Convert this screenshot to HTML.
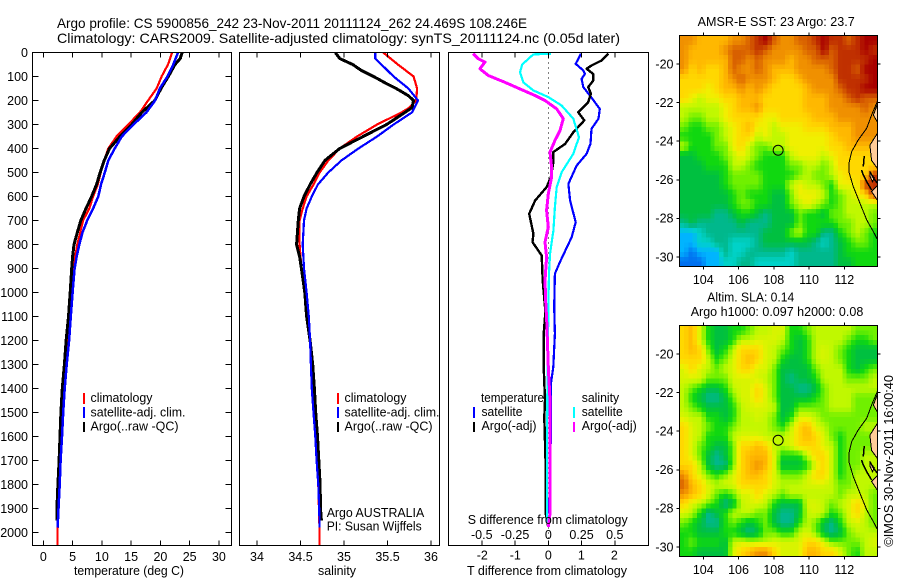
<!DOCTYPE html>
<html>
<head>
<meta charset="utf-8">
<title>Argo profile</title>
<style>
html,body{margin:0;padding:0;background:#fff;width:900px;height:580px;overflow:hidden}
svg{display:block}
text{font-family:"Liberation Sans",sans-serif;font-size:12.5px;fill:#000}
</style>
</head>
<body>
<svg id="chart" xmlns="http://www.w3.org/2000/svg" width="900" height="580" viewBox="0 0 900 580">
<defs>
<clipPath id="clip-sst"><rect x="679.5" y="35.5" width="198" height="231"/></clipPath>
<clipPath id="clip-sla"><rect x="679.5" y="325.5" width="198" height="231"/></clipPath>
</defs>
<text x="57" y="28" style="font-size:14px" textLength="470" lengthAdjust="spacingAndGlyphs">Argo profile: CS 5900856_242 23-Nov-2011 20111124_262 24.469S 108.246E</text>
<text x="57" y="43" style="font-size:14px" textLength="563" lengthAdjust="spacingAndGlyphs">Climatology: CARS2009. Satellite-adjusted climatology: synTS_20111124.nc (0.05d later)</text>
<g id="p1"></g>
<g id="p2"></g>
<g id="p3"></g>
<g id="m1"></g>
<g id="m2"></g>

<text x="74" y="575" textLength="110" lengthAdjust="spacingAndGlyphs">temperature (deg C)</text>
<text x="318" y="575" textLength="38" lengthAdjust="spacingAndGlyphs">salinity</text>
<text x="467" y="575" textLength="160" lengthAdjust="spacingAndGlyphs">T difference from climatology</text>
<text x="467.7" y="524" textLength="160" lengthAdjust="spacingAndGlyphs">S difference from climatology</text>

<g>
<rect x="83" y="393" width="2" height="11" fill="#ff0000"/>
<rect x="83" y="407" width="2" height="11" fill="#0000ff"/>
<rect x="83" y="422" width="2" height="10" fill="#000"/>
<text x="90.5" y="402" textLength="62" lengthAdjust="spacingAndGlyphs">climatology</text>
<text x="90.5" y="416.5" textLength="95" lengthAdjust="spacingAndGlyphs">satellite-adj. clim.</text>
<text x="90.5" y="430.5" textLength="88" lengthAdjust="spacingAndGlyphs">Argo(..raw -QC)</text>
</g>
<g>
<rect x="337" y="393" width="2" height="11" fill="#ff0000"/>
<rect x="337" y="407" width="2" height="11" fill="#0000ff"/>
<rect x="337" y="422" width="2" height="10" fill="#000"/>
<text x="344.5" y="402" textLength="62" lengthAdjust="spacingAndGlyphs">climatology</text>
<text x="344.5" y="416.5" textLength="95" lengthAdjust="spacingAndGlyphs">satellite-adj. clim.</text>
<text x="344.5" y="430.5" textLength="88" lengthAdjust="spacingAndGlyphs">Argo(..raw -QC)</text>
<text x="326.7" y="517" textLength="97.5" lengthAdjust="spacingAndGlyphs">Argo AUSTRALIA</text>
<text x="326.7" y="530.7" textLength="95" lengthAdjust="spacingAndGlyphs">PI: Susan Wijffels</text>
</g>
<g>
<rect x="473" y="407" width="2" height="11" fill="#0000ff"/>
<rect x="473" y="422" width="2" height="10" fill="#000"/>
<rect x="573" y="407" width="2" height="11" fill="#00ffff"/>
<rect x="573" y="422" width="2" height="10" fill="#ff00ff"/>
<text x="481" y="402" textLength="63" lengthAdjust="spacingAndGlyphs">temperature</text>
<text x="481.5" y="416" textLength="41" lengthAdjust="spacingAndGlyphs">satellite</text>
<text x="481.5" y="430" textLength="55" lengthAdjust="spacingAndGlyphs">Argo(-adj)</text>
<text x="581.7" y="402" textLength="37.5" lengthAdjust="spacingAndGlyphs">salinity</text>
<text x="581.7" y="416" textLength="41" lengthAdjust="spacingAndGlyphs">satellite</text>
<text x="581.7" y="430" textLength="55" lengthAdjust="spacingAndGlyphs">Argo(-adj)</text>
</g>

<text x="697.7" y="26" textLength="157" lengthAdjust="spacingAndGlyphs">AMSR-E SST: 23 Argo: 23.7</text>
<text x="707.3" y="301.7" textLength="87" lengthAdjust="spacingAndGlyphs">Altim. SLA: 0.14</text>
<text x="690.7" y="316" textLength="172.6" lengthAdjust="spacingAndGlyphs">Argo h1000: 0.097 h2000: 0.08</text>
<text transform="translate(893 546.7) rotate(-90)" textLength="171.7" lengthAdjust="spacingAndGlyphs">©IMOS 30-Nov-2011 16:00:40</text>
</svg>

<script>
// ---------- profile data ----------
var depthTicks = [0,100,200,300,400,500,600,700,800,900,1000,1100,1200,1300,1400,1500,1600,1700,1800,1900,2000];
var tempTicks = [0,5,10,15,20,25,30];
var salTicks = [34,34.5,35,35.5,36];
var salTickLabels = ['34','34.5','35','35.5','36'];
var tDiffTicks = [-2,-1,0,1,2];
var sDiffTicks = [-0.5,-0.25,0,0.25,0.5];
var sDiffLabels = ['-0.5','-0.25','0','0.25','0.5'];
var lonTicks = [104,106,108,110,112];
var latTicks = [-20,-22,-24,-26,-28,-30];

var climTempDepths = [0,50,100,150,200,250,300,350,400,450,500,550,600,650,700,750,800,850,900,1000,1100,1200,1300,1400,1500,1600,1700,1800,1900,2000,2057];
var climTemp = [22.0,21.3,20.2,19.35,17.9,16.5,14.5,12.5,11.1,10.4,9.8,9.3,8.5,7.85,6.8,6.3,5.8,5.45,5.2,4.9,4.55,4.2,3.8,3.47,3.2,3.0,2.85,2.7,2.5,2.4,2.4];
var satTempDepths = [0,50,100,150,200,250,300,350,400,450,500,550,600,650,700,750,800,850,900,1000,1100,1200,1300,1400,1500,1600,1700,1800,1900,1980];
var satTemp = [23,22.2,21.2,19.9,19.1,17.6,15.4,13.4,12.2,11.1,10.5,9.85,9.4,8.5,7.5,6.7,6.15,5.7,5.35,5.0,4.7,4.4,4.0,3.65,3.4,3.2,2.95,2.8,2.6,2.45];
var argoTempDepths = [0,25,50,100,150,200,250,300,350,400,450,500,550,600,650,700,750,800,850,900,1000,1100,1200,1300,1400,1500,1600,1700,1800,1900,1950];
var argoTemp = [23.7,23.4,22.5,21.35,20.1,19.05,16.8,15.1,13.1,11.3,10.4,9.7,9.1,8.25,7.3,6.4,5.8,5.25,5.0,4.85,4.6,4.3,3.9,3.6,3.25,3.0,2.85,2.7,2.5,2.33,2.3];

var climSalDepths = [0,50,100,150,200,230,250,300,350,400,450,500,550,600,650,700,800,900,1000,1200,1400,1600,1800,2000,2057];
var climSal = [35.45,35.62,35.8,35.84,35.83,35.75,35.66,35.38,35.15,34.95,34.82,34.72,34.65,34.57,34.525,34.49,34.49,34.51,34.55,34.61,34.63,34.67,34.705,34.72,34.72];
var satSalDepths = [0,25,50,100,150,200,250,300,350,400,450,500,550,600,650,700,800,900,1000,1100,1200,1300,1400,1500,1600,1700,1800,1900,1980];
var satSal = [35.36,35.36,35.43,35.57,35.74,35.85,35.78,35.57,35.38,35.165,34.97,34.82,34.7,34.63,34.57,34.54,34.525,34.54,34.57,34.595,34.61,34.62,34.63,34.65,34.67,34.685,34.705,34.715,34.72];
var argoSalDepths = [0,25,50,75,100,130,150,180,200,230,250,300,350,400,450,500,550,600,650,700,800,850,900,1000,1100,1200,1300,1400,1500,1600,1700,1800,1900,1950];
var argoSal = [34.9,34.95,35.1,35.2,35.34,35.49,35.6,35.74,35.8,35.78,35.7,35.49,35.22,34.95,34.78,34.69,34.61,34.54,34.49,34.475,34.455,34.49,34.51,34.55,34.57,34.61,34.64,34.66,34.675,34.695,34.71,34.725,34.73,34.74];

var tSatDiffDepths = [5,47,75,89,110,144,179,235,276,318,380,422,471,547,617,707,769,874,922,1061,1172,1310,1380,1590,1921];
var tSatDiff = [0.99,0.83,1.06,1.11,1.01,1.06,1.26,1.56,1.52,1.31,1.28,1.16,0.86,0.61,0.66,0.83,0.71,0.35,0.20,0.18,0.20,0.15,0.08,0.08,0.02];
var tArgoDiffDepths = [5,33,54,68,89,117,144,172,207,249,283,332,381,415,457,519,561,617,672,756,790,846,950,1061,1103,1172,1310,1449,1519,1727,1921,1977];
var tArgoDiff = [1.82,1.62,1.31,1.16,1.36,1.36,1.21,1.29,1.21,0.91,1.09,0.76,0.51,0.15,0.15,0.08,-0.05,-0.40,-0.58,-0.45,-0.48,-0.20,-0.17,-0.10,-0.10,-0.14,-0.14,-0.10,-0.12,-0.08,-0.08,0];
var sSatDiffDepths = [5,8,50,82,124,158,186,221,276,353,422,499,561,644,742,839,922,1061,1103,1310,1590,1921,1977];
var sSatDiff = [0.02,-0.113,-0.196,-0.213,-0.188,-0.113,0,0.10,0.188,0.231,0.188,0.10,0.063,0.05,0.038,0.013,0.005,0,0,-0.005,-0.01,-0.01,0];
var sArgoDiffDepths = [5,26,40,68,96,124,158,179,200,235,276,325,367,415,478,519,589,658,728,790,853,950,1061,1103,1310,1449,1590,1727,1921,1977];
var sArgoDiff = [-0.564,-0.526,-0.476,-0.514,-0.451,-0.326,-0.188,-0.10,-0.025,0.063,0.113,0.088,0.05,0.013,0.025,0.025,0,-0.013,0,-0.025,-0.013,-0.025,-0.018,-0.013,0,0.013,0.013,0.013,0.013,0];

// ---------- map data: colour level sampled every half degree, north to south ----------
var sstLevels = [
[11,11,10,10,10,10,11,11,12,13,14,12,11,11,12,12,13,14,13,13,12,13,14,14],
[11,10,10,10,10,11,12,12,12,13,12,11,11,11,11,12,12,14,12,13,13,13,14,13],
[11,10,10,10,10,10,12,12,11,12,11,11,11,10,11,11,12,12,12,13,13,13,13,14],
[11,9,10,9,9,10,12,11,11,12,11,10,10,10,11,11,11,11,12,13,13,12,14,14],
[9,9,9,9,9,10,11,12,11,11,11,10,9,9,10,11,11,11,11,13,13,13,13,14],
[9,9,9,8,9,10,10,11,10,11,10,9,9,9,9,10,11,11,11,12,13,13,14,14],
[9,8,7,8,8,9,9,10,10,10,9,9,9,9,9,10,10,10,11,11,12,13,12,12],
[7,7,7,7,7,8,9,10,10,11,9,9,9,9,9,10,10,10,11,11,11,11,12,11],
[7,6,6,7,7,8,9,9,9,9,8,8,9,9,9,9,10,10,10,11,11,11,11,11],
[6,5,5,6,6,7,8,9,10,8,8,7,8,8,8,9,9,9,10,10,10,11,11,11],
[5,5,5,5,6,7,8,9,9,7,8,7,7,8,8,8,8,8,9,10,10,11,11,11],
[7,5,5,5,6,6,8,9,7,6,6,7,7,8,8,8,8,8,9,9,10,10,10,10],
[4,4,5,5,5,6,7,8,7,6,5,5,5,7,8,8,8,7,8,9,9,9,9,9],
[4,4,4,5,5,5,7,7,6,5,5,5,5,6,6,7,7,6,7,9,9,9,9,9],
[4,4,4,4,4,5,6,6,6,6,5,5,5,5,6,7,6,6,7,8,9,9,9,13],
[4,4,4,4,4,5,6,6,6,6,5,5,5,7,8,7,7,6,5,8,8,8,13,13],
[4,4,4,4,4,4,5,6,5,5,5,4,4,6,8,8,8,7,5,6,7,8,9,13],
[4,4,4,4,4,4,5,6,6,5,5,4,4,6,7,8,7,6,5,6,7,7,7,7],
[4,4,4,4,3,3,4,5,5,4,3,4,4,4,6,5,5,4,6,6,7,7,7,6],
[3,4,3,3,3,3,3,4,3,3,3,4,4,4,6,5,5,5,5,6,6,7,7,6],
[1,1,2,3,3,3,3,3,3,3,4,4,4,6,7,5,5,3,3,5,6,7,6,5],
[1,1,2,2,3,3,2,2,2,3,4,4,4,4,4,4,3,2,3,4,5,6,6,5],
[1,0,1,1,1,3,2,2,3,3,3,3,3,2,3,3,3,3,3,4,5,5,5,5],
[0,0,0,1,1,2,2,3,3,2,2,2,2,2,3,3,3,3,3,4,4,5,5,5]
];
var slaLevels = [
[9,10,7.5,5,4,4,5,5,6,7,7,7.5,7.5,5,5,6,7,7,7,7,7,6,6,6],
[9,10,7.5,5,4,4,5,7,7,7.5,7.5,7.5,7,5,4,5,7,7,7,7,6,5,5,6],
[9,10,9,6,4,5,7,9,9,9,7.5,7,6,5,4,5,7,7.5,7,6,5,4,4,4],
[9,9,9,7,5,6,7.5,9,10,9,7.5,7,5,4,4,5,7,7.5,7,6,5,4,4,4],
[7.5,9,7.5,7,6,7,7.5,9,9,7.5,7.5,6,4,4,4,4,6,7,7,7,5,4,5,6],
[7.5,7.5,7.5,6,6,6,7.5,7.5,7.5,7.5,7,6,4,3,4,4,5,7,7,7,6,6,6,7],
[7,6,5,4,4,5,7,7.5,7.5,9,7.5,6,4,4,3,3,4,6,7,7,7,7,7,7],
[7,5,4,3,3,4,6,7.5,7.5,9,7.5,6,4,4,4,4,5,6,7,7,7,6,6,6],
[7,6,5,4,4,4,5,7,7.5,7.5,7.5,7,4,4,6,6,6,6,7,7,7,6,6,6],
[7.5,7,7,5,5,4,5,7,7,7.5,7,6,4,5,7.5,7.5,7,6,6,6,6,6,6,6],
[9,7.5,7,6,5,5,6,7,7,7,7,6,5,7,9,10,7.5,7,6,6,6,6,7,7],
[9,7.5,7,5,5,5,7,7.5,7.5,7.5,7,7,7,7.5,9,10,9,7.5,6,5,6,6,6,6],
[9,7.5,6,5,4,4,6,9,9,10,9,7,7,7.5,9,9,9,7.5,7,5,6,6,6,6],
[9,7.5,6,4,3,4,6,9,10,10,10,7.5,5,5,5,7,9,9,7,5,6,6,7,7],
[9,9,7,4,3,3,6,9,10,11,10,7.5,4,4,4,5,7.5,9,7,5,6,6,7,7],
[11,9,7.5,6,5,6,7.5,9,10,10,9,7.5,6,6,6,7,9,9,7,5,6,7,7,7],
[12,10,9,7.5,7,7.5,7.5,9,9,9,9,7.5,7,7,7,7.5,7.5,7.5,7,6,6,7,7,7],
[11,10,9,7.5,6,5,6,7.5,7.5,9,7.5,7,6,7,7,7,7,7,7,6,7,7,7,6],
[9,7.5,7,6,5,3,4,7,7.5,7.5,7,5,4,4,4,7.5,7.5,7,6,7,7.5,9,7.5,6],
[7.5,7,5,3,4,5,7,7,7,6,6,4,3,3,4,7,7.5,7,5,6,7.5,9,7,6],
[6,5,4,3,3,5,6,5,4,5,6,4,3,3,5,7,6,4,3,5,7,7.5,7,6],
[5,5,4,4,4,5,5,4,3,4,6,6,5,5,7,7.5,6,4,3,4,6,7,7,7],
[5,6,5,5,5,4,7,7.5,7,7,7,7.5,7.5,7.5,7.5,9,9,7.5,6,6,6,6,7,7.5],
[5,5,4,4,4,4,7.5,9,10,11,11,9,7.5,7.5,7.5,10,10,9,9,7.5,6,5,7,7]
];
var floatLon = 108.246;
var floatLat = -24.469;
var shelfLon = [113.87,113.55,113.27,112.79,112.42,112.26,112.26,112.51,112.89,113.27,113.65,113.87];
var shelfLat = [-21.95,-22.64,-23.33,-23.94,-24.54,-25.15,-25.58,-26.36,-27.22,-28.08,-28.69,-29.08];
var landALon = [113.87,113.65,113.87];
var landALat = [-22.1,-22.65,-23.0];
var landBLon = [113.87,113.45,113.55,113.87];
var landBLat = [-23.6,-24.2,-25.0,-25.4];
var landCLon = [113.46,113.7,113.6,113.45];
var landCLat = [-25.6,-25.9,-26.1,-25.8];
var landDLon = [113.55,113.87,113.87];
var landDLat = [-26.6,-26.3,-27.05];
var isleALon = [113.13,113.08];
var isleALat = [-24.77,-25.32];
var isleBLon = [112.98,113.08,113.27,113.55];
var isleBLat = [-25.49,-25.75,-26.10,-26.53];
var isleCLon = [113.46,113.61,113.87];
var isleCLat = [-25.58,-25.84,-26.18];

// ---------- scales ----------
function yDepth(d){return 52.5 + d*0.24;}
function xTemp(t){return 43.3 + t*5.855;}
function xSal(s){return 257 + (s-34)*87;}
function xTDiff(t){return 548.3 + t*33;}
function xSDiff(s){return 548.3 + s*133;}
function xLon(l){return 703.3 + (l-104)*17.625;}
function ySst(l){return 64 - (l+20)*19.3;}
function ySla(l){return 354 - (l+20)*19.3;}

// ---------- helpers ----------
var NS='http://www.w3.org/2000/svg';
function add(parent,tag,attrs){
  var e=document.createElementNS(NS,tag);
  for(var k in attrs){e.setAttribute(k,attrs[k]);}
  parent.appendChild(e);
  return e;
}
function frame(parent,x,y,w,h){
  return add(parent,'rect',{x:x,y:y,width:w,height:h,fill:'none',stroke:'#000','stroke-width':1,'shape-rendering':'crispEdges'});
}
function seg(parent,x1,y1,x2,y2){
  return add(parent,'line',{x1:x1,y1:y1,x2:x2,y2:y2,stroke:'#000','stroke-width':1,'shape-rendering':'crispEdges'});
}
function txt(parent,x,y,s,anchor){
  var e=add(parent,'text',{x:x,y:y,'text-anchor':anchor});
  e.textContent=s;
  return e;
}
function profile(parent,ds,vs,xf,color,w){
  var pts=[];
  for(var i=0;i<ds.length;i++){pts.push(xf(vs[i]).toFixed(1)+','+yDepth(ds[i]).toFixed(1));}
  return add(parent,'polyline',{points:pts.join(' '),fill:'none',stroke:color,'stroke-width':w,'stroke-linejoin':'round','shape-rendering':'crispEdges'});
}
function geoLine(parent,lons,lats,yf){
  var pts=[];
  for(var i=0;i<lons.length;i++){pts.push(xLon(lons[i]).toFixed(1)+','+yf(lats[i]).toFixed(1));}
  return add(parent,'polyline',{points:pts.join(' '),fill:'none',stroke:'#000','stroke-width':1,'shape-rendering':'crispEdges'});
}
function geoFill(parent,lons,lats,yf){
  var pts=[];
  for(var i=0;i<lons.length;i++){pts.push(xLon(lons[i]).toFixed(1)+','+yf(lats[i]).toFixed(1));}
  return add(parent,'polygon',{points:pts.join(' '),fill:'#ffcc99',stroke:'#000','stroke-width':1,'shape-rendering':'crispEdges'});
}
var palette=[[0,112,240],[0,180,255],[0,210,200],[0,184,140],[0,192,64],[16,216,16],[112,240,0],[192,248,0],[240,240,0],[255,216,0],[255,184,0],[240,144,0],[216,96,0],[192,48,0],[168,0,0]];
function levelColor(v){
  var c=Math.max(0,Math.min(14,v));
  var i=Math.min(13,Math.floor(c)),f=c-i;
  var a=palette[i],b=palette[i+1];
  return 'rgb('+Math.round(a[0]+(b[0]-a[0])*f)+','+Math.round(a[1]+(b[1]-a[1])*f)+','+Math.round(a[2]+(b[2]-a[2])*f)+')';
}
function sampleLevel(levels,u,v){
  var rows=levels.length,cols=levels[0].length;
  var cu=Math.max(0,Math.min(cols-1.001,u)),cv=Math.max(0,Math.min(rows-1.001,v));
  var i=Math.floor(cu),j=Math.floor(cv),fu=cu-i,fv=cv-j;
  return (levels[j][i]*(1-fu)+levels[j][i+1]*fu)*(1-fv)+(levels[j+1][i]*(1-fu)+levels[j+1][i+1]*fu)*fv;
}

// ---------- temperature panel ----------
var p1=document.getElementById('p1');
var el;
el=profile(p1,climTempDepths,climTemp,xTemp,'#ff0000',2.2);


el=profile(p1,argoTempDepths,argoTemp,xTemp,'#000000',3);


el=profile(p1,satTempDepths,satTemp,xTemp,'#0000ff',2.5);


el=frame(p1,32.5,52.5,199,493);


depthTicks.forEach(function(d){
  var a=seg(p1,32.5,yDepth(d),38.5,yDepth(d));
  
  
  var b=seg(p1,225.5,yDepth(d),231.5,yDepth(d));
  
  
  var t=txt(p1,28,yDepth(d)+4.5,String(d),'end');
  
  
});
tempTicks.forEach(function(v){
  var a=seg(p1,xTemp(v),52.5,xTemp(v),57.5);
  
  
  var b=seg(p1,xTemp(v),540.5,xTemp(v),545.5);
  
  
  var t=txt(p1,xTemp(v),561,String(v),'middle');
  
  
});

// ---------- salinity panel ----------
var p2=document.getElementById('p2');
el=profile(p2,climSalDepths,climSal,xSal,'#ff0000',2.2);


el=profile(p2,argoSalDepths,argoSal,xSal,'#000000',3);


el=profile(p2,satSalDepths,satSal,xSal,'#0000ff',2.2);


el=frame(p2,239.5,52.5,200,493);


salTicks.forEach(function(v,i){
  var a=seg(p2,xSal(v),52.5,xSal(v),57.5);
  
  
  var b=seg(p2,xSal(v),540.5,xSal(v),545.5);
  
  
  var t=txt(p2,xSal(v),561,salTickLabels[i],'middle');
  
  
});

// ---------- difference panel ----------
var p3=document.getElementById('p3');
el=add(p3,'line',{x1:xTDiff(0),y1:52.5,x2:xTDiff(0),y2:545.5,stroke:'#000','stroke-width':1,'stroke-dasharray':'1 4','shape-rendering':'crispEdges'});


el=profile(p3,tSatDiffDepths,tSatDiff,xTDiff,'#0000ff',2.2);


el=profile(p3,tArgoDiffDepths,tArgoDiff,xTDiff,'#000000',2.4);


el=profile(p3,sSatDiffDepths,sSatDiff,xSDiff,'#00ffff',2.2);


el=profile(p3,sArgoDiffDepths,sArgoDiff,xSDiff,'#ff00ff',3);


el=frame(p3,448.5,52.5,200,493);


tDiffTicks.forEach(function(v){
  var t=txt(p3,xTDiff(v),559.5,String(v),'middle');
  
  
});
sDiffTicks.forEach(function(v,i){
  var a=seg(p3,xSDiff(v),52.5,xSDiff(v),57.5);
  
  
  var b=seg(p3,xSDiff(v),540.5,xSDiff(v),545.5);
  
  
  var t=txt(p3,xSDiff(v),539,sDiffLabels[i],'middle');
  
  
});

// ---------- maps ----------
function drawCells(parent,levels,x0,y0,w,h){
  var drawCols=45, drawRows=48;
  var scaleU=levels[0].length/drawCols, scaleV=levels.length/drawRows;
  for(var r=0;r<drawRows;r++){
    for(var c=0;c<drawCols;c++){
      var v=sampleLevel(levels,(c+0.5)*scaleU-0.5,(r+0.5)*scaleV-0.5);
      var cell=add(parent,'rect',{x:x0+c*w/drawCols,y:y0+r*h/drawRows,width:w/drawCols+0.6,height:h/drawRows+0.6,fill:levelColor(v),'shape-rendering':'crispEdges'});
      
      
    }
  }
}
function drawMap(parent,levels,yf,top,clip){
  var g=add(parent,'g',{'clip-path':'url(#'+clip+')'});
  
  
  drawCells(g,levels,679.5,top,198,231);
  var s=geoLine(g,shelfLon,shelfLat,yf);
  
  
  [[landALon,landALat],[landBLon,landBLat],[landCLon,landCLat],[landDLon,landDLat]].forEach(function(q){
    var f=geoFill(g,q[0],q[1],yf);
    
    
  });
  [[isleALon,isleALat],[isleBLon,isleBLat],[isleCLon,isleCLat]].forEach(function(q){
    var i=geoLine(g,q[0],q[1],yf);
    i.setAttribute('stroke-width','1.5');
    
    
  });
  var fr=frame(parent,679.5,top,198,231);
  
  
  lonTicks.forEach(function(v){
    var a=seg(parent,xLon(v),top-3,xLon(v),top);
    
    
    var b=seg(parent,xLon(v),top+231,xLon(v),top+234);
    
    
    var t=txt(parent,xLon(v),top+248.5,String(v),'middle');
    
    
  });
  latTicks.forEach(function(v){
    var a=seg(parent,676.5,yf(v),679.5,yf(v));
    
    
    var b=seg(parent,877.5,yf(v),880.5,yf(v));
    
    
    var t=txt(parent,673.5,yf(v)+4.3,String(v),'end');
    
    
  });
  var m=add(parent,'circle',{cx:xLon(floatLon),cy:yf(floatLat),r:5,fill:'none',stroke:'#000','stroke-width':1});
  
  
}
drawMap(document.getElementById('m1'),sstLevels,ySst,35.5,'clip-sst');
drawMap(document.getElementById('m2'),slaLevels,ySla,325.5,'clip-sla');
</script>
</body>
</html>
